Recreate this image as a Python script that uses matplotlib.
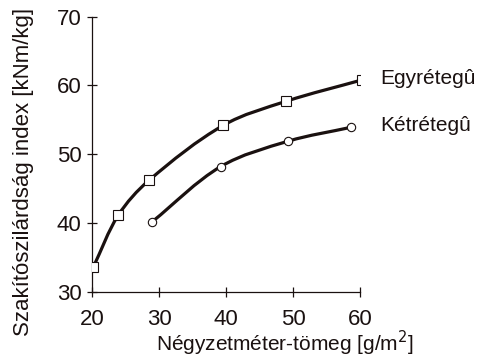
import matplotlib
matplotlib.use("Agg")
import matplotlib.pyplot as plt
import numpy as np
from matplotlib.path import Path
from matplotlib.patches import PathPatch

plt.rcParams['font.family'] = ['Liberation Sans', 'DejaVu Sans']

# values
egy_x = [20.2, 23.9, 28.5, 39.6, 49.0, 60.3]
egy_y = [33.6, 41.1, 46.2, 54.2, 57.7, 60.8]
ket_x = [29.0, 39.2, 49.3, 58.6]
ket_y = [40.2, 48.2, 51.9, 53.9]
labels = ["Egyrétegû", "Kétrétegû"]

INK = '#1a1110'


def smooth_path(xs, ys):
    # smoothed line like Excel: bezier segments, tangents scaled by chord length
    pts = np.column_stack([xs, ys]).astype(float)
    n = len(pts)
    tang = []
    for i in range(n):
        if i == 0:
            d = pts[1] - pts[0]
        elif i == n - 1:
            d = pts[-1] - pts[-2]
        else:
            d = pts[i + 1] - pts[i - 1]
        tang.append(d / np.linalg.norm(d))
    verts = [pts[0]]
    codes = [Path.MOVETO]
    for i in range(n - 1):
        L = np.linalg.norm(pts[i + 1] - pts[i]) / 3.0
        verts += [pts[i] + tang[i] * L, pts[i + 1] - tang[i + 1] * L, pts[i + 1]]
        codes += [Path.CURVE4] * 3
    return Path(verts, codes)


fig = plt.figure(figsize=(4.79, 3.59), dpi=100)
ax = fig.add_axes([0.192, 0.187, 0.56, 0.767])

for xs, ys, mk in [(egy_x, egy_y, 's'), (ket_x, ket_y, 'o')]:
    ax.add_patch(PathPatch(smooth_path(xs, ys), facecolor='none',
                           edgecolor=INK, lw=2.3, zorder=2, capstyle='round'))
    ax.plot(xs, ys, linestyle='none', marker=mk, markersize=7 if mk == 's' else 6,
            markerfacecolor='white', markeredgecolor=INK, markeredgewidth=0.8,
            zorder=3)

ax.text(63.0, egy_y[-1] + 0.2, labels[0], fontsize=15, ha='left', va='center',
        color=INK, clip_on=False)
ax.text(63.0, ket_y[-1] + 0.3, labels[1], fontsize=15, ha='left', va='center',
        color=INK, clip_on=False)

ax.set_xlim(20, 60)
ax.set_ylim(30, 70)
ax.set_xticks([20, 30, 40, 50, 60])
ax.set_yticks([30, 40, 50, 60, 70])
ax.spines['top'].set_visible(False)
ax.spines['right'].set_visible(False)
for s in ['left', 'bottom']:
    ax.spines[s].set_linewidth(0.9)
    ax.spines[s].set_color(INK)
ax.tick_params(axis='both', direction='inout', length=7, width=0.9,
               colors=INK, labelsize=16)
ax.tick_params(axis='x', pad=9)
ax.tick_params(axis='y', pad=4)

ax.set_xlabel("Négyzetméter-tömeg [g/m$^2$]", fontsize=15, color=INK)
ax.xaxis.set_label_coords(0.72, -0.135)
ax.set_ylabel("Szakítószilárdság index [kNm/kg]", fontsize=16, color=INK)
ax.yaxis.set_label_coords(-0.215, 0.436)

fig.savefig("out.png", dpi=100)
